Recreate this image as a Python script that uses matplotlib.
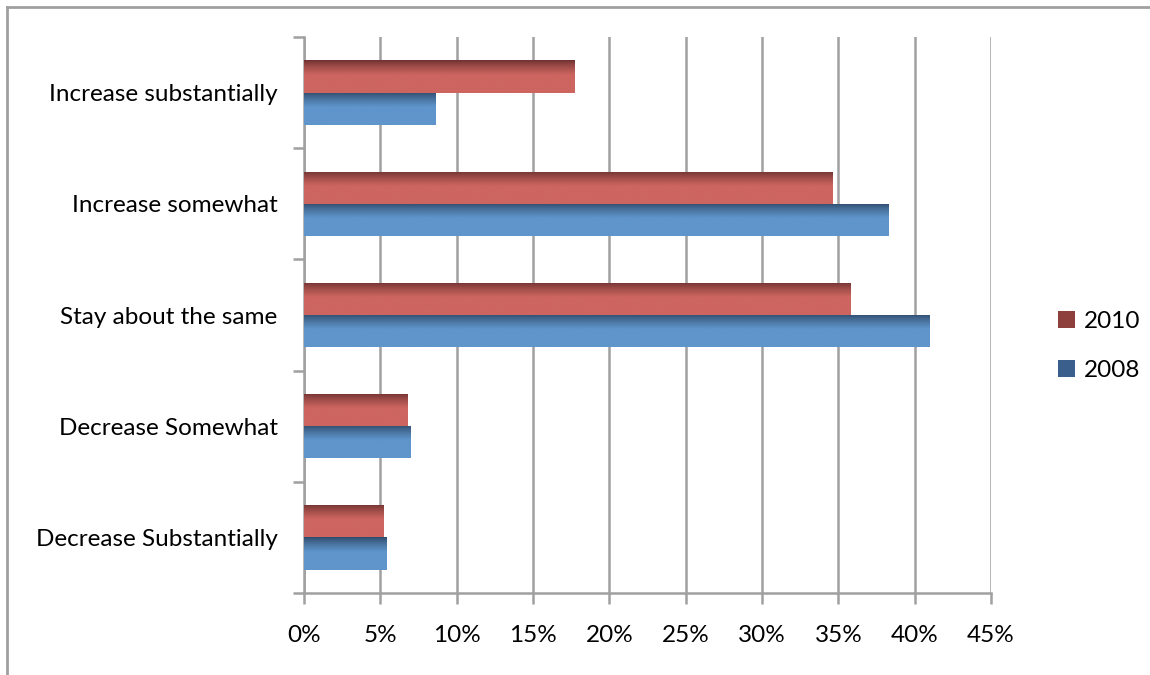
import numpy as np
import matplotlib
matplotlib.use("Agg")
import matplotlib.pyplot as plt
from matplotlib.colors import LinearSegmentedColormap
from matplotlib.patches import Patch
from matplotlib.lines import Line2D
from matplotlib.ticker import FuncFormatter, MultipleLocator

# Données (en %)
categories = ["Increase substantially", "Increase somewhat", "Stay about the same",
              "Decrease Somewhat", "Decrease Substantially"]
valeurs_2010 = [17.7, 34.6, 35.8, 6.8, 5.2]
valeurs_2008 = [8.6, 38.3, 41.0, 7.0, 5.4]
series = ["2010", "2008"]

plt.rcParams['font.family'] = ['Lato', 'DejaVu Sans']
taille = 17.5

fig = plt.figure(figsize=(11.5, 6.75), dpi=100)
ax = fig.add_axes([304/1150, 82/675, 687/1150, 556/675])

n = len(categories)
pos = np.arange(n)[::-1]
h = 0.29

# couleurs : (haut sombre, couleur principale)
couleurs = {"2010": ("#6e3230", "#cd6560"), "2008": ("#2f4a6a", "#5f95cb")}

def degrade(bar, sombre, clair):
    # dégradé vertical : sombre en haut, puis couleur principale
    t = np.linspace(0, 1, 64)
    prof = np.clip(t / 0.45, 0, 1) ** 0.8
    cmap = LinearSegmentedColormap.from_list("g", [sombre, clair])
    img = prof.reshape(-1, 1)
    x0, y0 = bar.get_x(), bar.get_y()
    w, hh = bar.get_width(), bar.get_height()
    im = ax.imshow(img, cmap=cmap, vmin=0, vmax=1, aspect='auto',
                   extent=[x0, x0 + w, y0, y0 + hh], origin='upper', zorder=3)
    im.set_clip_path(bar)

bars10 = ax.barh(pos + h/2, valeurs_2010, height=h, color=couleurs["2010"][1], zorder=3, linewidth=0)
bars08 = ax.barh(pos - h/2, valeurs_2008, height=h, color=couleurs["2008"][1], zorder=3, linewidth=0)
for b in bars10:
    degrade(b, *couleurs["2010"])
for b in bars08:
    degrade(b, *couleurs["2008"])

ax.set_xlim(0, 45)
ax.set_ylim(-0.5, n - 0.5)
ax.xaxis.set_major_locator(MultipleLocator(5))
ax.xaxis.set_major_formatter(FuncFormatter(lambda v, p: "%d%%" % round(v)))
ax.set_yticks(pos)
ax.set_yticklabels(categories)
ax.set_yticks(np.arange(n + 1) - 0.5, minor=True)

gris = "#a0a0a0"
ax.grid(axis='x', color=gris, linewidth=1.8, zorder=0)
ax.set_axisbelow(True)
for s in ["top", "right"]:
    ax.spines[s].set_visible(False)
for s in ["left", "bottom"]:
    ax.spines[s].set_color(gris)
    ax.spines[s].set_linewidth(1.8)

ax.tick_params(axis='y', which='major', length=0, pad=19, labelsize=taille)
ax.tick_params(axis='y', which='minor', length=8, width=1.8, color=gris)
ax.tick_params(axis='x', length=8, width=1.8, color=gris, pad=15, labelsize=taille)

handles = [Patch(facecolor="#8e403d", edgecolor="none"), Patch(facecolor="#3b5f8c", edgecolor="none")]
ax.legend(handles, series, loc='center left', bbox_to_anchor=(1.065, 0.444), frameon=False,
          fontsize=taille, handlelength=0.7, handleheight=0.7, handletextpad=0.4, labelspacing=1.15)

# cadre extérieur (haut et gauche)
fig.add_artist(Line2D([7/1150, 1], [1 - 7/675, 1 - 7/675], color=gris, linewidth=2, transform=fig.transFigure))
fig.add_artist(Line2D([7/1150, 7/1150], [0, 1 - 7/675], color=gris, linewidth=2, transform=fig.transFigure))

fig.savefig("out.png", dpi=100)
